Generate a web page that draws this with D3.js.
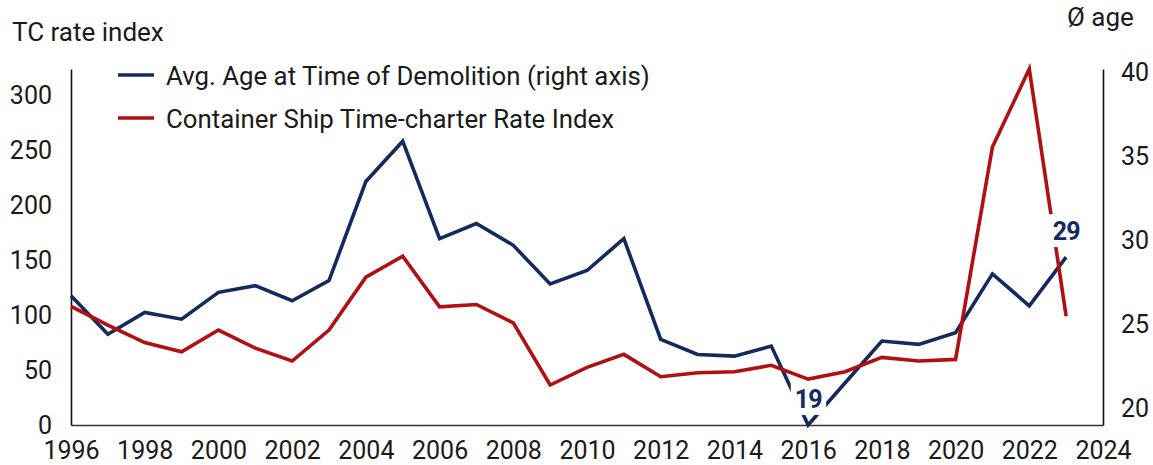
<!DOCTYPE html>
<html>
<head>
<meta charset="utf-8">
<script src="https://d3js.org/d3.v7.min.js"></script>
<style>
  body { margin: 0; background: #fff; }
  svg { display: block; font-family: Roboto, "Noto Sans", sans-serif; }
</style>
</head>
<body>
<svg id="chart"></svg>
<script>
// Chart data
const years = d3.range(1996, 2024);
const avgAge = [26.7, 24.4, 25.7, 25.3, 26.9, 27.3, 26.4, 27.6, 33.5, 35.9,
                30.1, 31.0, 29.7, 27.4, 28.2, 30.1, 24.1, 23.2, 23.1, 23.7,
                19.0, 21.5, 24.0, 23.8, 24.5, 28.0, 26.1, 29.0];
const rateIndex = [108, 91, 75, 66.6, 86.4, 70, 58.2, 86.4, 134.5, 153.6,
                   107.5, 109.7, 93, 36.4, 52.5, 64.3, 43.9, 47.5, 48.5, 54.3,
                   41.8, 48.5, 61.5, 58.2, 59.7, 253, 324, 99];
const xTicks = d3.range(1996, 2025, 2);
const leftTicks = [0, 50, 100, 150, 200, 250, 300];
const rightTicks = [20, 25, 30, 35, 40];
const labelled = [{ year: 2016, text: "19" }, { year: 2023, text: "29" }];
const legendItems = [
    { name: "Avg. Age at Time of Demolition (right axis)", color: "#152a5c" },
    { name: "Container Ship Time-charter Rate Index", color: "#b10f12" }
];

// Set up SVG dimensions
const width = 1153;
const height = 465;
const margin = { top: 69, right: 50, bottom: 40, left: 71 };

const svg = d3.select("#chart")
    .attr("width", width)
    .attr("height", height);

// Scales
const x = d3.scaleLinear()
    .domain([1996, 2024])
    .range([margin.left, width - margin.right]);
const yLeft = d3.scaleLinear()
    .domain([0, 324])
    .range([height - margin.bottom, margin.top]);
const yRight = d3.scaleLinear()
    .domain([19, 40.2])
    .range([height - margin.bottom, margin.top]);

const fontSize = 25;
const textColor = "#1a1a1a";

// Axes (no tick marks, just labels and the lines)
const xAxis = svg.append("g")
    .attr("transform", `translate(0, ${height - margin.bottom})`)
    .call(d3.axisBottom(x).tickValues(xTicks).tickFormat(d3.format("d")).tickSize(0).tickPadding(16));
xAxis.select(".domain").attr("stroke", "#333").attr("stroke-width", 1.5);

const leftAxis = svg.append("g")
    .attr("transform", `translate(${margin.left}, 0)`)
    .call(d3.axisLeft(yLeft).tickValues(leftTicks).tickSize(0).tickPadding(19));
leftAxis.select(".domain").attr("stroke", "#111").attr("stroke-width", 1.6);

const rightAxis = svg.append("g")
    .attr("transform", `translate(${width - margin.right}, 0)`)
    .call(d3.axisRight(yRight).tickValues(rightTicks).tickSize(0).tickPadding(18));
rightAxis.select(".domain").attr("stroke", "#111").attr("stroke-width", 1.6);

svg.selectAll(".tick text")
    .attr("font-family", "Roboto, sans-serif")
    .attr("font-size", fontSize)
    .attr("fill", textColor);

// Axis titles
svg.append("text")
    .attr("x", 12).attr("y", 41)
    .attr("font-size", 26).attr("fill", textColor)
    .text("TC rate index");
svg.append("text")
    .attr("x", 1067).attr("y", 26)
    .attr("font-size", 26).attr("fill", textColor)
    .text("Ø age");

// Lines
const ageLine = d3.line()
    .x((d, i) => x(years[i]))
    .y(d => yRight(d));
const rateLine = d3.line()
    .x((d, i) => x(years[i]))
    .y(d => yLeft(d));

svg.append("path")
    .datum(avgAge)
    .attr("d", ageLine)
    .attr("fill", "none")
    .attr("stroke", legendItems[0].color)
    .attr("stroke-width", 3.6)
    .attr("stroke-linejoin", "miter");

svg.append("path")
    .datum(rateIndex)
    .attr("d", rateLine)
    .attr("fill", "none")
    .attr("stroke", legendItems[1].color)
    .attr("stroke-width", 3.6)
    .attr("stroke-linejoin", "miter");

// Data labels with a white box behind them
labelled.forEach(lab => {
    const i = years.indexOf(lab.year);
    const px = x(lab.year);
    const py = yRight(avgAge[i]) - 17;
    const g = svg.append("g");
    const t = g.append("text")
        .attr("x", px).attr("y", py)
        .attr("text-anchor", "middle")
        .attr("font-size", 25)
        .attr("font-weight", 700)
        .attr("letter-spacing", -1)
        .attr("fill", legendItems[0].color)
        .text(lab.text);
    const bb = t.node().getBBox();
    g.insert("rect", "text")
        .attr("x", bb.x - 4).attr("y", bb.y - 3)
        .attr("width", bb.width + 8).attr("height", bb.height + 4)
        .attr("fill", "#fff");
});

// Legend
const legend = svg.append("g");
legendItems.forEach((item, i) => {
    const ly = 75 + i * 43;
    legend.append("line")
        .attr("x1", 118).attr("x2", 154)
        .attr("y1", ly).attr("y2", ly)
        .attr("stroke", item.color)
        .attr("stroke-width", 3.6);
    legend.append("text")
        .attr("x", 166).attr("y", ly + 10)
        .attr("font-size", 25.8).attr("fill", textColor)
        .text(item.name);
});
</script>
</body>
</html>
